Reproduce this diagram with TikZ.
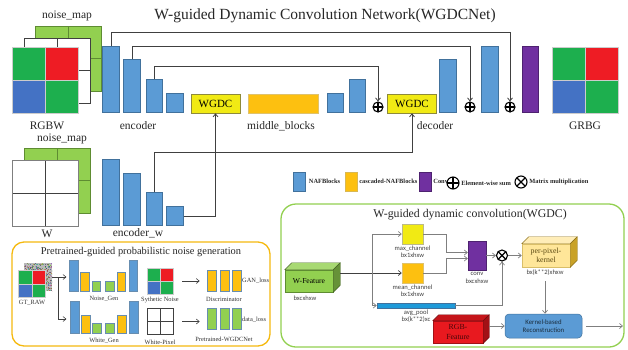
\documentclass[tikz,border=0pt]{standalone}
\usepackage{fontspec}
\setmainfont{Liberation Serif}
\setsansfont{Carlito}
\usepackage{xcolor}
\usetikzlibrary{arrows.meta,positioning,calc}

\definecolor{nafblue}{HTML}{5B9BD5}
\definecolor{nafedge}{HTML}{41719C}
\definecolor{cascorange}{HTML}{FDC010}
\definecolor{cascedge}{HTML}{C99A0A}
\definecolor{wgdcyellow}{HTML}{F1EA14}
\definecolor{wgdcedge}{HTML}{8E8A3A}
\definecolor{convpurple}{HTML}{7030A0}
\definecolor{noisegreen}{HTML}{92D050}
\definecolor{noiseedge}{HTML}{5E8C32}
\definecolor{pixgreen}{HTML}{1DAF4E}
\definecolor{pixred}{HTML}{EE1C24}
\definecolor{pixblue}{HTML}{4472C4}
\definecolor{linegray}{HTML}{404040}
\definecolor{softgray}{HTML}{7F7F7F}
\definecolor{frameorange}{HTML}{F5B90F}
\definecolor{kernelyellow}{HTML}{FFE699}
\definecolor{kerneledge}{HTML}{C9A227}
\definecolor{featred}{HTML}{E8191F}
\definecolor{poolblue}{HTML}{1E9AD9}

\newcommand{\fsz}[2]{\fontsize{#1}{#2}\selectfont}
% top and side faces of a box drawn as a cuboid
\newcommand{\cubefaces}[4]{%
  \filldraw[fill=#3, draw=#4!70!black, line width=0.4pt]
    (#1.north west) -- ++(#2,-#2) -- ($(#1.north east)+(#2,-#2)$) -- (#1.north east) -- cycle;
  \filldraw[fill=#4, draw=#4!70!black, line width=0.4pt]
    (#1.north east) -- ++(#2,-#2) -- ($(#1.south east)+(#2,-#2)$) -- (#1.south east) -- cycle;}

\tikzset{
  lbl/.style={font=\fsz{11.5}{13}, text=black!85, inner sep=0pt},
  small/.style={font=\fsz{6.4}{7.5}, text=black!80, inner sep=0pt, align=center},
  sans/.style={font=\sffamily\fsz{6.6}{7.4}, text=linegray, inner sep=0pt, align=center},
  legtext/.style={font=\bfseries\fsz{6.4}{7}, text=black!85, inner sep=0pt},
  bar/.style={draw=nafedge, fill=nafblue, line width=0.6pt, minimum width=16.5pt, inner sep=0pt, anchor=south},
  minibar/.style={draw=nafedge!80, line width=0.6pt, minimum width=8.5pt, inner sep=0pt, anchor=south},
  wgdcbox/.style={draw=wgdcedge, fill=wgdcyellow, line width=0.6pt, minimum width=49pt, minimum height=19pt, inner sep=0pt, font=\fsz{11}{12}},
  sumop/.style={circle, draw, line width=1.1pt, minimum size=10pt, inner sep=0pt,
    path picture={\draw[line width=1.1pt] (path picture bounding box.north) -- (path picture bounding box.south)
      (path picture bounding box.west) -- (path picture bounding box.east);}},
  mulop/.style={circle, draw, line width=1.1pt, minimum size=11pt, inner sep=0pt,
    path picture={\draw[line width=1.1pt] (path picture bounding box.north west) -- (path picture bounding box.south east)
      (path picture bounding box.south west) -- (path picture bounding box.north east);}},
  quad/.style n args={4}{draw=white!60!gray, line width=0.5pt, inner sep=0pt, path picture={
    \fill[#1] (path picture bounding box.north west) rectangle (path picture bounding box.center);
    \fill[#2] (path picture bounding box.north) rectangle (path picture bounding box.east);
    \fill[#3] (path picture bounding box.west) rectangle (path picture bounding box.south);
    \fill[#4] (path picture bounding box.center) rectangle (path picture bounding box.south east);
    \draw[white!60!gray, line width=0.5pt] (path picture bounding box.north) -- (path picture bounding box.south)
      (path picture bounding box.west) -- (path picture bounding box.east);}},
  plain/.style 2 args={fill=#1, draw=#2, line width=0.8pt, inner sep=0pt, path picture={
    \draw[#2, line width=0.8pt] (path picture bounding box.north) -- (path picture bounding box.south)
      (path picture bounding box.west) -- (path picture bounding box.east);}},
  skip/.style={draw=linegray, line width=0.8pt, -{Straight Barb[length=3pt,width=5pt]}},
  flow/.style={draw=softgray, line width=0.7pt, -{Straight Barb[length=3pt,width=5pt]}},
  frame/.style={rounded corners=12pt, line width=1.3pt, inner sep=0pt},
}

\begin{document}
\begin{tikzpicture}[x=1pt, y=-1pt]
\useasboundingbox (0,0) rectangle (628,349);

% frames
\node[frame, draw=frameorange, minimum width=258pt, minimum height=104pt] (pgframe) at (141,294) {};
\node[frame, draw=noisegreen, rounded corners=15pt, minimum width=343pt, minimum height=143pt] (wgdcframe) at (452.5,275.5) {};

\node[font=\fsz{15.5}{17}, text=black!85] (title) at (325,16) {W-guided Dynamic Convolution Network(WGDCNet)};

% RGBW input with its noise map
\node[plain={noisegreen}{noiseedge}, minimum width=66pt, minimum height=65pt] (nmap) at (68,58.5) {};
\node[plain={white}{linegray}, minimum width=66pt, minimum height=65pt] (wlayer) at (57,70.5) {};
\node[quad={pixgreen}{pixred}{pixblue}{pixgreen}, minimum size=66pt] (rgbw) at (45,80) {};
\node[lbl] (nmaplbl) at (67,16) {noise\_map};
\node[lbl] (rgbwlbl) at (47,126) {RGBW};

% encoder / middle / decoder
\node[bar, minimum height=66pt] (enc1) at (111,113) {};
\node[bar, minimum height=53pt] (enc2) at (132,113) {};
\node[bar, minimum height=33pt] (enc3) at (154.5,113) {};
\node[bar, minimum height=19pt] (enc4) at (175,113) {};
\node[wgdcbox] (wgdc1) at (215.5,103.5) {WGDC};
\node[draw=cascedge!60, fill=cascorange, line width=0.5pt, minimum width=70pt, minimum height=19pt, inner sep=0pt] (mid) at (283,103.5) {};
\node[bar, minimum height=19pt] (dec1) at (335.5,113) {};
\node[bar, minimum height=33pt] (dec2) at (357.5,113) {};
\node[sumop] (sum1) at (378,107) {};
\node[wgdcbox] (wgdc2) at (412,103.5) {WGDC};
\node[bar, minimum height=53pt] (dec3) at (448,113) {};
\node[sumop] (sum2) at (470,107) {};
\node[bar, minimum height=66pt] (dec4) at (490,113) {};
\node[sumop] (sum3) at (510,107) {};
\node[bar, draw=convpurple!70!black, fill=convpurple, minimum height=66pt] (conv) at (530.5,113) {};
\node[quad={pixgreen}{pixred}{pixblue}{pixgreen}, minimum size=66pt] (grbg) at (585,80) {};

\node[lbl] (enclbl) at (138,126) {encoder};
\node[lbl] (midlbl) at (281,126) {middle\_blocks};
\node[lbl] (declbl) at (435,126) {decoder};
\node[lbl] (grbglbl) at (585,126) {GRBG};

\draw[skip] (enc1.north) -- ++(0,-14) -| (sum3.north);
\draw[skip] (enc2.north) -- ++(0,-13) -| (sum2.north);
\draw[skip] (enc3.north) -- ++(0,-13) -| (sum1.north);

% W input and encoder_w
\node[plain={noisegreen}{noiseedge}, minimum width=66pt, minimum height=65pt] (wnmap) at (57,180.5) {};
\node[plain={white}{linegray}, draw=softgray, minimum size=66pt] (wimg) at (45,193) {};
\node[lbl] (wnmaplbl) at (62,139) {noise\_map};
\node[lbl] (wlbl) at (47,234) {W};

\node[bar, minimum height=66pt] (encw1) at (111,226) {};
\node[bar, minimum height=52pt] (encw2) at (132,226) {};
\node[bar, minimum height=33pt] (encw3) at (154.5,226) {};
\node[bar, minimum height=19pt] (encw4) at (175,226) {};
\node[lbl] (encwlbl) at (138,233) {encoder\_w};

\draw[skip] (encw4.east) -| (wgdc1.south);
\draw[skip] (encw3.north) -- ++(0,-40) -| (wgdc2.south);

% legend
\node[draw=nafedge, fill=nafblue, minimum width=12pt, minimum height=19pt, inner sep=0pt] (legnaf) at (299.5,181.5) {};
\node[legtext, right=3pt of legnaf] (legnaftxt) {NAFBlocks};
\node[draw=cascedge!70, fill=cascorange, minimum width=12pt, minimum height=19pt, inner sep=0pt] (legcasc) at (351,181.5) {};
\node[legtext, right=2pt of legcasc] (legcasctxt) {cascaded-NAFBlocks};
\node[draw=convpurple!70!black, fill=convpurple, minimum width=12pt, minimum height=19pt, inner sep=0pt] (legconv) at (425.5,181.5) {};
\node[legtext, right=1.5pt of legconv] (legconvtxt) {Conv};
\node[sumop, minimum size=12pt] (legsum) at (453,183) {};
\node[legtext, right=1.5pt of legsum] (legsumtxt) {Element-wise sum};
\node[mulop, minimum size=12pt] (legmul) at (521,182) {};
\node[legtext, right=1.5pt of legmul] (legmultxt) {Matrix multiplication};

% pretrained-guided probabilistic noise generation
\node[font=\fsz{10.4}{12}, text=black!85] (pgtitle) at (141,252) {Pretrained-guided probabilistic noise generation};

\node[fill=gray!55, minimum size=28pt, inner sep=0pt] (gtnoise) at (38,277) {};
\begin{scope}
  \clip (gtnoise.north west) rectangle (gtnoise.south east);
  \pgfmathsetseed{11}
  \foreach \k in {1,...,450}{
    \pgfmathsetmacro{\nx}{24+28*rnd}
    \pgfmathsetmacro{\ny}{263+28*rnd}
    \pgfmathsetmacro{\nr}{0.3+0.45*rnd}
    \pgfmathsetmacro{\ngr}{0.3+0.45*rnd}
    \pgfmathsetmacro{\nb}{0.3+0.45*rnd}
    \fill[color={rgb,1:red,\nr;green,\ngr;blue,\nb}] (\nx,\ny) rectangle ++(1,1);
  }
\end{scope}
\node[quad={pixgreen}{pixred}{pixblue}{pixgreen}, minimum size=27pt] (gtraw) at (32,284) {};
\node[small] (gtlbl) at (32,303) {GT\_RAW};

\foreach \x/\h/\c [count=\i] in {74/31/nafblue, 85/19/cascorange, 96.5/10/noisegreen, 110/10/noisegreen, 121.5/19/cascorange, 133.5/31/nafblue}
  \node[minibar, fill=\c, minimum height=\h pt] (ng\i) at (\x,292) {};
\foreach \x/\h/\c [count=\i] in {75/32/nafblue, 86/18/cascorange, 97/10/noisegreen, 110/10/noisegreen, 122/18/cascorange, 134/32/nafblue}
  \node[minibar, fill=\c, minimum height=\h pt] (wg\i) at (\x,334) {};
\node[small] (nglbl) at (104,299) {Noise\_Gen};
\node[small] (wglbl) at (104,341) {White\_Gen};

\coordinate (gtsplit) at ($(gtnoise.east)+(6,0)$);
\draw[skip, line width=0.6pt] (gtnoise.east) -- ([xshift=-3pt]gtnoise.east -| ng1.west);
\draw[skip, line width=0.6pt] (gtsplit) |- ([xshift=-4pt]wg1.west |- 0,319);

\node[quad={pixgreen}{pixred}{pixblue}{pixgreen}, minimum size=26pt] (synth) at (160,281) {};
\node[small] (synthlbl) at (160,300) {Sythetic Noise};
\node[plain={white}{linegray}, line width=0.6pt, minimum size=26pt] (wpix) at (160,321.5) {};
\node[small] (wpixlbl) at (160,342) {White-Pixel};

\foreach \x [count=\i] in {211.5,224.5,236.5}{
  \node[minibar, fill=cascorange, minimum width=9pt, minimum height=21pt] (disc\i) at (\x,292) {};
  \node[minibar, fill=noisegreen, minimum width=9pt, minimum height=21pt] (pre\i) at (\x,330) {};
}
\node[small] (disclbl) at (224,299) {Discriminator};
\node[small] (prelbl) at (224,339) {Pretrained-WGDCNet};
\node[small, anchor=west] (ganlbl) at (242,281) {GAN\_loss};
\node[small, anchor=west] (datalbl) at (242,320) {data\_loss};

\draw[skip, line width=0.6pt, shorten <=9pt, shorten >=7pt] (synth.east) -- (synth.east -| disc1.west);
\draw[skip, line width=0.6pt, shorten <=9pt, shorten >=7pt] (wpix.east) -- (wpix.east -| pre1.west);

% W-guided dynamic convolution
\node[font=\fsz{11.8}{13}, text=black!85] (wgdctitle) at (470,215) {W-guided dynamic convolution(WGDC)};

\node[draw=noiseedge, fill=noisegreen, line width=0.5pt, minimum width=48pt, minimum height=22pt, inner sep=0pt, font=\fsz{7.6}{8.5}] (wfeat) at (309,281) {W-Feature};
\cubefaces{wfeat}{7}{noisegreen!80!white}{noisegreen!70!black}
\node[sans] (wfeatlbl) at (305,298) {bxcxhxw};

\node[draw=wgdcedge!60, fill=wgdcyellow, minimum width=21pt, minimum height=20pt, inner sep=0pt] (maxc) at (412.5,234) {};
\node[sans, below=1.5pt of maxc] (maxlbl) {max\_channel\\bx1xhxw};
\node[draw=cascedge!60, fill=cascorange, minimum width=21pt, minimum height=20pt, inner sep=0pt] (meanc) at (412.5,273) {};
\node[sans, below=1.5pt of meanc] (meanlbl) {mean\_channel\\bx1xhxw};
\node[draw=nafedge, fill=poolblue, line width=0.5pt, minimum width=78pt, minimum height=5pt, inner sep=0pt] (avgp) at (416,305.5) {};
\node[sans, below=1.5pt of avgp] (avglbl) {avg\_pool\\bx(k**2)xc};

\node[draw=convpurple!70!black, fill=convpurple, minimum width=18pt, minimum height=29pt, inner sep=0pt] (wconv) at (477,255.5) {};
\node[sans, below=2pt of wconv] (wconvlbl) {conv\\bxcxhxw};
\node[mulop] (mult) at (502,255.5) {};

\node[draw=kerneledge!70, fill=kernelyellow, line width=0.5pt, minimum width=48pt, minimum height=23pt, inner sep=0pt, align=center, font=\fsz{7.8}{8.6}, text=black!55!kerneledge] (ppk) at (546,255.5) {per-pixel-\\kernel};
\cubefaces{ppk}{7}{kernelyellow!70!white}{kerneledge}
\node[sans] (ppklbl) at (545,273) {bx(k**2)xhxw};

\node[draw=featred!70!black, fill=featred, line width=0.5pt, minimum width=50pt, minimum height=22pt, inner sep=0pt, align=center, font=\fsz{7.8}{9.5}, text=black!70!featred] (rgbf) at (458,332) {RGB-\\Feature};
\cubefaces{rgbf}{6}{featred!85!black}{featred!70!black}

\node[draw=nafedge, fill=nafblue, line width=0.5pt, rounded corners=4pt, minimum width=77pt, minimum height=24pt, inner sep=0pt, align=center, font=\sffamily\fsz{6.8}{7.8}, text=black!60!nafedge] (kbr) at (543.5,326) {Kernel-based\\Reconstruction};
\coordinate (wgdcout) at (623,326);

\coordinate (wfout) at ($(wfeat.east)+(7,-7)$);
\coordinate (wsplit) at (372,273);
\draw[line width=0.7pt, draw=linegray] (wfout |- meanc.west) -- (wsplit);
\draw[flow, draw=linegray] (wsplit) -- (meanc.west);
\draw[flow] (wsplit |- avgp.west) |- (maxc.west);
\draw[flow] (wsplit) |- (avgp.west);
\draw[flow] (maxc.east) -- ++(23,0) |- ($(wconv.west)+(0,-3)$);
\draw[flow] (meanc.east) -- ++(23,0) |- ($(wconv.west)+(0,3)$);
\draw[flow] (wconv.east) -- (mult.west);
\draw[flow] (avgp.east) -| (mult.south);
\draw[flow] (mult.east) -- (ppk.west);
\draw[flow] ([yshift=-5pt]ppklbl.south) -- (ppklbl.south |- kbr.north);
\draw[flow] ($(rgbf.east)+(6,-6)$) -- (kbr.west);
\draw[flow] ([xshift=4pt]kbr.east) -- (wgdcout);
\end{tikzpicture}
\end{document}
